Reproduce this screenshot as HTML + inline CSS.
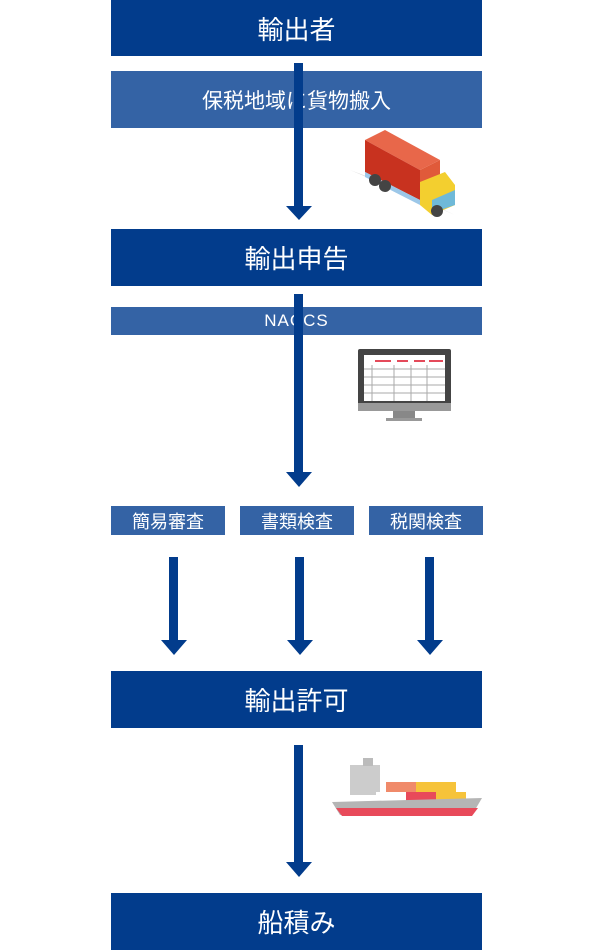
<!DOCTYPE html>
<html><head><meta charset="utf-8"><style>
body{margin:0;width:600px;height:950px;background:#fff;position:relative;overflow:hidden;font-family:"Liberation Sans","Noto Sans CJK JP",sans-serif}
.b{position:absolute;left:111px;width:371px;color:#fff;display:flex;align-items:center;justify-content:center}
.d{background:#023c8c;font-size:26px;height:57px}
.l{background:#3463a5;font-size:21px}
.s{position:absolute;background:#3463a5;color:#fff;font-size:18px;top:506px;height:29px;width:114px;display:flex;align-items:center;justify-content:center}
svg{position:absolute;left:0;top:0}
</style></head><body>
<div class="b d" style="top:0;height:56px">輸出者</div>
<div class="b l" style="top:71px;height:57px">保税地域に貨物搬入</div>
<div class="b d" style="top:229px">輸出申告</div>
<div class="b l" style="top:307px;height:28px;font-size:17px;letter-spacing:1px">NACCS</div>
<div class="s" style="left:111px">簡易審査</div>
<div class="s" style="left:240px">書類検査</div>
<div class="s" style="left:369px">税関検査</div>
<div class="b d" style="top:671px">輸出許可</div>
<div class="b d" style="top:893px">船積み</div>
<svg width="600" height="950">
<g fill="#023c8c">
<rect x="294" y="63" width="9" height="145"/><polygon points="286,206 312,206 299,220"/>
<rect x="294" y="294" width="9" height="178"/><polygon points="286,472 312,472 299,487"/>
<rect x="169" y="557" width="9" height="84"/><polygon points="161,640 187,640 174,655"/>
<rect x="295" y="557" width="9" height="84"/><polygon points="287,640 313,640 300,655"/>
<rect x="425" y="557" width="9" height="84"/><polygon points="417,640 443,640 430,655"/>
<rect x="294" y="745" width="9" height="118"/><polygon points="286,862 312,862 299,877"/>
</g>
<!-- truck -->
<polygon points="350,170 420,200 455,215 390,185" fill="#ddd"/>
<polygon points="365,140 385,130 440,160 420,170" fill="#e8674a"/>
<polygon points="365,140 420,170 420,200 365,172" fill="#c8321f"/>
<polygon points="420,170 440,160 440,190 420,200" fill="#e05a3a"/>
<polygon points="365,172 420,200 420,205 365,177" fill="#9cc7e8"/>
<polygon points="420,182 445,172 455,185 455,205 432,215 420,205" fill="#f3cf2f"/>
<polygon points="432,200 455,190 455,205 432,213" fill="#6fb9d8"/>
<circle cx="375" cy="180" r="6" fill="#444"/><circle cx="385" cy="186" r="6" fill="#444"/><circle cx="437" cy="211" r="6" fill="#444"/>
<!-- monitor -->
<rect x="358" y="349" width="93" height="61" rx="2" fill="#444"/>
<rect x="364" y="355" width="81" height="46" fill="#fff"/>
<g fill="#e44a5a"><rect x="375" y="360" width="16" height="2"/><rect x="397" y="360" width="11" height="2"/><rect x="414" y="360" width="11" height="2"/><rect x="429" y="360" width="14" height="2"/></g>
<g stroke="#aaa" stroke-width="1"><line x1="364" y1="369" x2="445" y2="369"/><line x1="364" y1="377" x2="445" y2="377"/><line x1="364" y1="385" x2="445" y2="385"/><line x1="364" y1="393" x2="445" y2="393"/><line x1="372" y1="365" x2="372" y2="401"/><line x1="394" y1="365" x2="394" y2="401"/><line x1="411" y1="365" x2="411" y2="401"/><line x1="427" y1="365" x2="427" y2="401"/></g>
<rect x="358" y="403" width="93" height="8" fill="#999"/>
<rect x="393" y="411" width="22" height="7" fill="#888"/><rect x="386" y="418" width="36" height="3" fill="#999"/>
<!-- ship -->
<rect x="350" y="765" width="30" height="30" fill="#ccc"/><rect x="363" y="758" width="10" height="8" fill="#bbb"/>
<rect x="386" y="782" width="30" height="10" fill="#f08a6a"/><rect x="416" y="782" width="40" height="10" fill="#f6c33a"/>
<rect x="376" y="792" width="30" height="10" fill="#fff"/><rect x="406" y="792" width="30" height="10" fill="#e84a5a"/><rect x="436" y="792" width="30" height="8" fill="#f6c33a"/>
<polygon points="332,802 482,798 472,815 340,815" fill="#b5b5b5"/>
<polygon points="336,808 478,808 472,816 342,816" fill="#e84a5a"/>
</svg>
</body></html>
